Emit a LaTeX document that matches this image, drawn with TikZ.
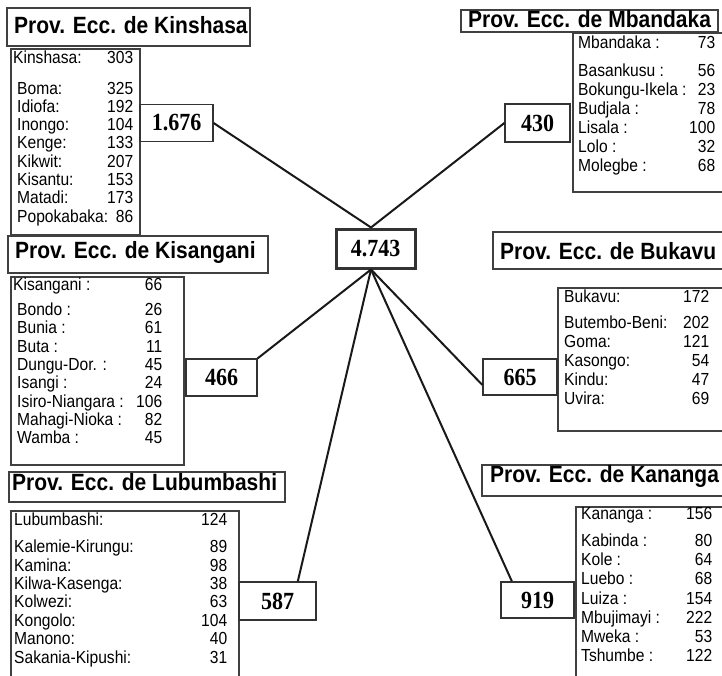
\documentclass[tikz,border=0pt]{standalone}
\usepackage{fontspec}
\setmainfont{Liberation Serif}
\setsansfont{Liberation Sans}
\usepackage{array}
\usepackage{graphicx}
\usepackage{tikz}
\usetikzlibrary{positioning}

\newcommand{\listfont}[1]{\sffamily\fontsize{15.6}{#1}\selectfont}
\newcommand{\tall}[1]{\scalebox{1}[1.12]{#1}}

\begin{document}
\begin{tikzpicture}[x=1pt,y=-1pt,
    numbox/.style={draw=black!80, line width=1.2pt, minimum width=#1, minimum height=37pt,
      inner sep=0pt, font=\rmfamily\bfseries\fontsize{22}{24}\selectfont},
    ttl/.style={anchor=base west, inner sep=0pt, font=\sffamily\bfseries\fontsize{21}{24}\selectfont},
    liste/.style={anchor=base west, inner sep=0pt},
    frame/.style={draw=black!75, line width=1.1pt},
    conn/.style={line width=2pt, black!90}]
  \useasboundingbox (0,0) rectangle (722,675);

  % total in the middle
  \node[numbox=79pt, line width=3pt, minimum height=39pt] (tot) at (375.5,248.5) {\tall{4.743}};
  \coordinate (tottop) at ([xshift=-4.5pt]tot.north);
  \coordinate (totbot) at ([xshift=-4.5pt]tot.south);

  % Kinshasa
  \draw[frame] (7,8) rectangle (250,46);
  \node[ttl] (tkin) at (14,33) {\tall{Prov. Ecc. de Kinshasa}};
  \draw[frame] (11,49) rectangle (140,235);
  \node[liste] (lkin) at (17,63) {\tall{\listfont{16.34}\begin{tabular}[t]{@{}w{l}{90pt}@{}r@{}}
    \hspace*{-4pt}Kinshasa: & 303\\[11.34pt]
    Boma: & 325\\
    Idiofa: & 192\\
    Inongo: & 104\\
    Kenge: & 133\\
    Kikwit: & 207\\
    Kisantu: & 153\\
    Matadi: & 173\\
    Popokabaka: & 86
  \end{tabular}}};
  \node[numbox=73pt] (kin) at (176.5,123) {\tall{1.676}};

  % Mbandaka
  \draw[frame] (461,10) rectangle (718,32);
  \node[ttl] (tmba) at (468,27) {\tall{Prov. Ecc. de Mbandaka}};
  \draw[frame] (573,33) rectangle (724,192);
  \node[liste] (lmba) at (578,48.3) {\tall{\listfont{16.88}\begin{tabular}[t]{@{}w{l}{111pt}@{}r@{}}
    Mbandaka : & 73\\[8.48pt]
    Basankusu : & 56\\
    Bokungu-Ikela : & 23\\
    Budjala : & 78\\
    Lisala : & 100\\
    Lolo : & 32\\
    Molegbe : & 68
  \end{tabular}}};
  \node[numbox=65pt, minimum height=38pt] (mba) at (537.5,123) {\tall{430}};

  % Kisangani
  \draw[frame] (8,236) rectangle (268,273);
  \node[ttl] (tkis) at (15,258) {\tall{Prov. Ecc. de Kisangani}};
  \draw[frame] (11,277) rectangle (184,465);
  \node[liste] (lkis) at (17,290.6) {\tall{\listfont{16.34}\begin{tabular}[t]{@{}w{l}{119pt}@{}r@{}}
    \hspace*{-4pt}Kisangani : & 66\\[5.98pt]
    Bondo : & 26\\
    Bunia : & 61\\
    Buta : & 11\\
    Dungu-Dor. : & 45\\
    Isangi : & 24\\
    Isiro-Niangara : & 106\\
    Mahagi-Nioka : & 82\\
    Wamba : & 45
  \end{tabular}}};
  \node[numbox=71pt] (kis) at (221.5,377.5) {\tall{466}};

  % Bukavu
  \draw[frame] (493,232) rectangle (723,269);
  \node[ttl] (tbuk) at (500,259) {\tall{Prov. Ecc. de Bukavu}};
  \draw[frame] (558,288) rectangle (724,431);
  \node[liste] (lbuk) at (564,302.6) {\tall{\listfont{16.96}\begin{tabular}[t]{@{}w{l}{119pt}@{}r@{}}
    Bukavu: & 172\\[6.25pt]
    Butembo-Beni: & 202\\
    Goma: & 121\\
    Kasongo: & 54\\
    Kindu: & 47\\
    Uvira: & 69
  \end{tabular}}};
  \node[numbox=74pt, minimum height=36pt] (buk) at (520,377) {\tall{665}};

  % Lubumbashi
  \draw[frame] (9,472) rectangle (285,502);
  \node[ttl] (tlub) at (12,490) {\tall{Prov. Ecc. de Lubumbashi}};
  \draw[frame] (11,680) -- (11,511) -- (239,511) -- (239,680);
  \node[liste] (llub) at (14,525.6) {\tall{\listfont{16.43}\begin{tabular}[t]{@{}w{l}{187pt}@{}r@{}}
    Lubumbashi: & 124\\[7.68pt]
    Kalemie-Kirungu: & 89\\
    Kamina: & 98\\
    Kilwa-Kasenga: & 38\\
    Kolwezi: & 63\\
    Kongolo: & 104\\
    Manono: & 40\\
    Sakania-Kipushi: & 31
  \end{tabular}}};
  \node[numbox=77pt, minimum height=38pt] (lub) at (277.5,601) {\tall{587}};

  % Kananga
  \draw[frame] (482,465) rectangle (723,496);
  \node[ttl] (tkan) at (490,482) {\tall{Prov. Ecc. de Kananga}};
  \draw[frame] (576,680) -- (576,507) -- (724,507);
  \node[liste] (lkan) at (581,519.6) {\tall{\listfont{17.14}\begin{tabular}[t]{@{}w{l}{105pt}@{}r@{}}
    Kananga : & 156\\[6.96pt]
    Kabinda : & 80\\
    Kole : & 64\\
    Luebo : & 68\\
    Luiza : & 154\\
    Mbujimayi : & 222\\
    Mweka : & 53\\
    Tshumbe : & 122
  \end{tabular}}};
  \node[numbox=73pt, minimum height=36pt] (kan) at (537.5,600) {\tall{919}};

  % connectors
  \draw[conn] (tottop) -- (kin.east);
  \draw[conn] (tottop) -- (mba.west);
  \draw[conn] (totbot) -- (kis.north east);
  \draw[conn] (totbot) -- (buk.192);
  \draw[conn] (totbot) -- (lub.44);
  \draw[conn] (totbot) -- (kan.144);
\end{tikzpicture}
\end{document}
